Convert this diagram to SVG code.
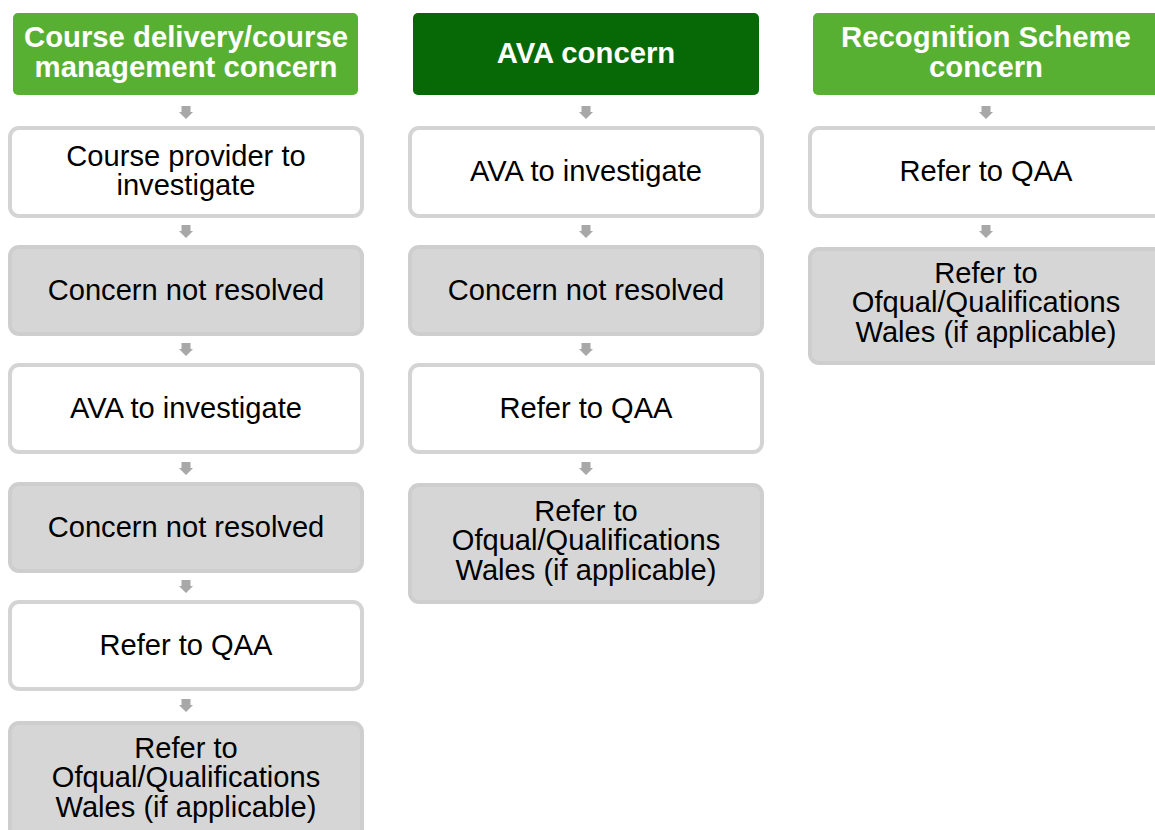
<svg xmlns="http://www.w3.org/2000/svg" width="1155" height="830" viewBox="0 0 1155 830">
<style>
.hdr{fill:#58b033}
.hdr-dark{fill:#066906}
.ht{font-family:"Liberation Sans",Arial,sans-serif;font-weight:bold;font-size:29.3px;fill:#ffffff;text-anchor:middle}
.bw{fill:#ffffff;stroke:#d4d4d4;stroke-width:4}
.bg{fill:#d6d6d6;stroke:#cecece;stroke-width:4}
.bt{font-family:"Liberation Sans",Arial,sans-serif;font-size:29.1px;fill:#000000;text-anchor:middle}
.arr{fill:#a8a8a8}
</style>
<defs>
<path id="ar" d="M-4.5,0 H4.5 V6 H7 L0,13 L-7,6 H-4.5 Z"/>
</defs>
<rect width="1155" height="830" fill="#ffffff"/>
<g id="connectors">
<use href="#ar" class="arr" x="186" y="106"/>
<use href="#ar" class="arr" x="186" y="225"/>
<use href="#ar" class="arr" x="186" y="343"/>
<use href="#ar" class="arr" x="186" y="462"/>
<use href="#ar" class="arr" x="186" y="580"/>
<use href="#ar" class="arr" x="186" y="699"/>
<use href="#ar" class="arr" x="586" y="106"/>
<use href="#ar" class="arr" x="586" y="225"/>
<use href="#ar" class="arr" x="586" y="343"/>
<use href="#ar" class="arr" x="586" y="462"/>
<use href="#ar" class="arr" x="986" y="106"/>
<use href="#ar" class="arr" x="986" y="225"/>
</g>
<g id="h1"><rect class="hdr" x="13" y="13" width="345" height="82" rx="5"/><text class="ht" x="186" y="47">Course delivery/course</text><text class="ht" x="186" y="77">management concern</text></g>
<g id="h2"><rect class="hdr-dark" x="413" y="13" width="346" height="82" rx="5"/><text class="ht" x="586" y="63">AVA concern</text></g>
<g id="h3"><rect class="hdr" x="813" y="13" width="360" height="82" rx="5"/><text class="ht" x="986" y="47">Recognition Scheme</text><text class="ht" x="986" y="77">concern</text></g>

<g id="c1n1"><rect class="bw" x="10" y="128" width="352" height="88" rx="9"/><text class="bt" x="186" y="166">Course provider to</text><text class="bt" x="186" y="195">investigate</text></g>
<g id="c1n2"><rect class="bg" x="10" y="247" width="352" height="87" rx="9"/><text class="bt" x="186" y="300">Concern not resolved</text></g>
<g id="c1n3"><rect class="bw" x="10" y="365" width="352" height="87" rx="9"/><text class="bt" x="186" y="418">AVA to investigate</text></g>
<g id="c1n4"><rect class="bg" x="10" y="484" width="352" height="87" rx="9"/><text class="bt" x="186" y="537">Concern not resolved</text></g>
<g id="c1n5"><rect class="bw" x="10" y="602" width="352" height="87" rx="9"/><text class="bt" x="186" y="655">Refer to QAA</text></g>
<g id="c1n6"><rect class="bg" x="10" y="723" width="352" height="125" rx="9"/><text class="bt" x="186" y="758">Refer to</text><text class="bt" x="186" y="787">Ofqual/Qualifications</text><text class="bt" x="186" y="817">Wales (if applicable)</text></g>

<g id="c2n1"><rect class="bw" x="410" y="128" width="352" height="88" rx="9"/><text class="bt" x="586" y="181">AVA to investigate</text></g>
<g id="c2n2"><rect class="bg" x="410" y="247" width="352" height="87" rx="9"/><text class="bt" x="586" y="300">Concern not resolved</text></g>
<g id="c2n3"><rect class="bw" x="410" y="365" width="352" height="87" rx="9"/><text class="bt" x="586" y="418">Refer to QAA</text></g>
<g id="c2n4"><rect class="bg" x="410" y="485" width="352" height="117" rx="9"/><text class="bt" x="586" y="521">Refer to</text><text class="bt" x="586" y="550">Ofqual/Qualifications</text><text class="bt" x="586" y="580">Wales (if applicable)</text></g>

<g id="c3n1"><rect class="bw" x="810" y="128" width="360" height="88" rx="9"/><text class="bt" x="986" y="181">Refer to QAA</text></g>
<g id="c3n2"><rect class="bg" x="810" y="249" width="360" height="114" rx="9"/><text class="bt" x="986" y="283">Refer to</text><text class="bt" x="986" y="312">Ofqual/Qualifications</text><text class="bt" x="986" y="342">Wales (if applicable)</text></g>
</svg>
